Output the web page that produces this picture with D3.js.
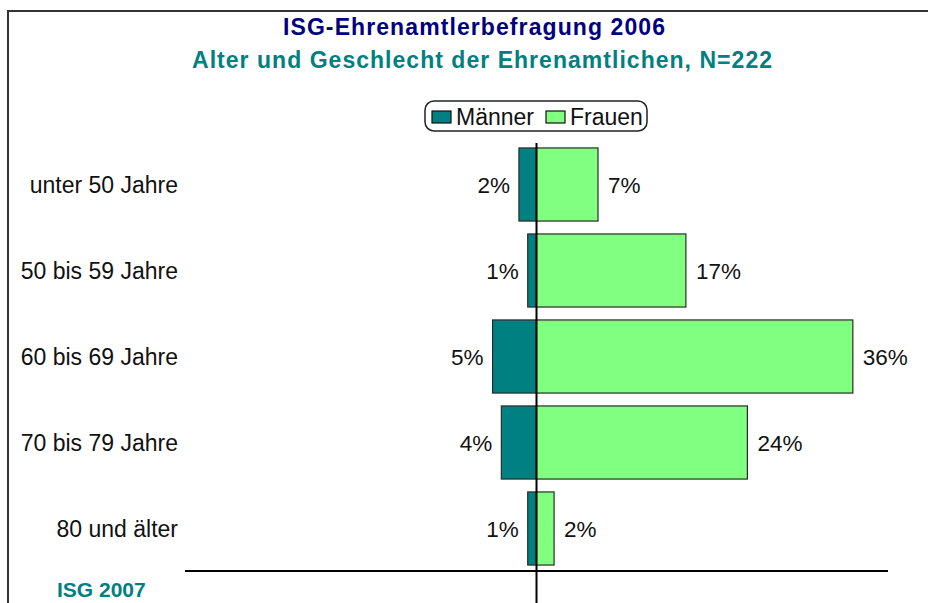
<!DOCTYPE html>
<html>
<head>
<meta charset="utf-8">
<script src="https://cdn.jsdelivr.net/npm/d3@7"></script>
<style>
  html, body { margin: 0; padding: 0; background: #fff; }
  svg { display: block; font-family: Arial, "Liberation Sans", sans-serif; }
</style>
</head>
<body>
<div id="grafico"></div>
<script>
// ==============================
// DATEN
// ==============================

const altersgruppen = ["unter 50 Jahre", "50 bis 59 Jahre", "60 bis 69 Jahre", "70 bis 79 Jahre", "80 und älter"];
const maenner = [2, 1, 5, 4, 1];
const frauen = [7, 17, 36, 24, 2];
const serien = ["Männer", "Frauen"];
const farben = ["#008080", "#80ff80"];

const titel = "ISG-Ehrenamtlerbefragung 2006";
const untertitel = "Alter und Geschlecht der Ehrenamtlichen, N=222";
const quelle = "ISG 2007";

// ==============================
// SVG
// ==============================

const W = 928, H = 603;
const svg = d3.select("#grafico").append("svg")
  .attr("width", W)
  .attr("height", H);

// Rahmen (läuft rechts und unten aus dem Bild)
svg.append("rect")
  .attr("x", 8).attr("y", 11)
  .attr("width", 940).attr("height", 620)
  .attr("fill", "none")
  .attr("stroke", "#333")
  .attr("stroke-width", 2);

// Titel
svg.append("text")
  .attr("x", 474).attr("y", 35)
  .attr("text-anchor", "middle")
  .attr("font-size", 23).attr("font-weight", "bold")
  .attr("fill", "#000080")
  .attr("textLength", 382).attr("lengthAdjust", "spacing")
  .text(titel);

svg.append("text")
  .attr("x", 482).attr("y", 68)
  .attr("text-anchor", "middle")
  .attr("font-size", 23).attr("font-weight", "bold")
  .attr("fill", "#008080")
  .attr("textLength", 580).attr("lengthAdjust", "spacing")
  .text(untertitel);

// ==============================
// SKALEN
// ==============================

const x = d3.scaleLinear().domain([-40, 40]).range([185, 888]);
const y = d3.scaleBand().domain(altersgruppen).range([141.5, 571.5])
  .paddingInner(0.15).paddingOuter(0.075);

const zeilen = altersgruppen.map((g, i) => ({ gruppe: g, m: maenner[i], f: frauen[i] }));

const plot = svg.append("g");

// Balken Männer (links)
plot.selectAll("rect.m")
  .data(zeilen)
  .join("rect")
  .attr("class", "m")
  .attr("x", d => x(-d.m))
  .attr("y", d => y(d.gruppe))
  .attr("width", d => x(0) - x(-d.m))
  .attr("height", y.bandwidth())
  .attr("fill", farben[0])
  .attr("stroke", "#2a2a2a")
  .attr("stroke-width", 1.2);

// Balken Frauen (rechts)
plot.selectAll("rect.f")
  .data(zeilen)
  .join("rect")
  .attr("class", "f")
  .attr("x", x(0))
  .attr("y", d => y(d.gruppe))
  .attr("width", d => x(d.f) - x(0))
  .attr("height", y.bandwidth())
  .attr("fill", farben[1])
  .attr("stroke", "#2a2a2a")
  .attr("stroke-width", 1.2);

// Werte
plot.selectAll("text.wm")
  .data(zeilen)
  .join("text")
  .attr("class", "wm")
  .attr("x", d => x(-d.m) - 9)
  .attr("y", d => y(d.gruppe) + y.bandwidth() / 2 + 8.5)
  .attr("text-anchor", "end")
  .attr("font-size", 22.5)
  .attr("fill", "#111")
  .text(d => d.m + "%");

plot.selectAll("text.wf")
  .data(zeilen)
  .join("text")
  .attr("class", "wf")
  .attr("x", d => x(d.f) + 10)
  .attr("y", d => y(d.gruppe) + y.bandwidth() / 2 + 8.5)
  .attr("font-size", 22.5)
  .attr("fill", "#111")
  .text(d => d.f + "%");

// Kategorien
plot.selectAll("text.kat")
  .data(altersgruppen)
  .join("text")
  .attr("class", "kat")
  .attr("x", 178)
  .attr("y", d => y(d) + y.bandwidth() / 2 + 8.5)
  .attr("text-anchor", "end")
  .attr("font-size", 23)
  .attr("fill", "#111")
  .text(d => d);

// Achse unten und Mittellinie
svg.append("line")
  .attr("x1", x.range()[0]).attr("x2", x.range()[1])
  .attr("y1", 571).attr("y2", 571)
  .attr("stroke", "#000").attr("stroke-width", 2);

svg.append("line")
  .attr("x1", x(0)).attr("x2", x(0))
  .attr("y1", 143).attr("y2", H)
  .attr("stroke", "#000").attr("stroke-width", 2);

// ==============================
// LEGENDE
// ==============================

const leg = svg.append("g");
leg.append("rect")
  .attr("x", 425).attr("y", 101)
  .attr("width", 222).attr("height", 30)
  .attr("rx", 9)
  .attr("fill", "#fff")
  .attr("stroke", "#222").attr("stroke-width", 1.5);

const legX = [432, 546];
serien.forEach((s, i) => {
  leg.append("rect")
    .attr("x", legX[i]).attr("y", 111)
    .attr("width", 19).attr("height", 12)
    .attr("fill", farben[i])
    .attr("stroke", "#111").attr("stroke-width", 1.2);
  leg.append("text")
    .attr("x", legX[i] + 24).attr("y", 125)
    .attr("font-size", 23)
    .attr("fill", "#111")
    .text(s);
});

// Quelle (im Original unten angeschnitten, hier knapp sichtbar)
svg.append("text")
  .attr("x", 57).attr("y", 597)
  .attr("font-size", 21).attr("font-weight", "bold")
  .attr("fill", "#008080")
  .text(quelle);
</script>
</body>
</html>
